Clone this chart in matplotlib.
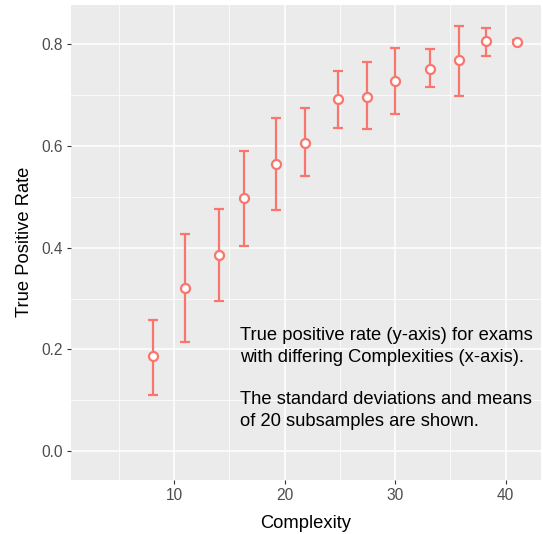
import numpy as np
import matplotlib
matplotlib.use("Agg")
import matplotlib.pyplot as plt
from matplotlib.ticker import MultipleLocator

plt.rcParams['font.family'] = ['Liberation Sans', 'DejaVu Sans']

# complexity vs mean true positive rate, with sd
complexity = [8.13, 10.95, 14.09, 16.33, 19.23, 21.86, 24.81, 27.48, 30.02, 33.19, 35.76, 38.23, 41.07]
tpr_mean   = [0.187, 0.320, 0.385, 0.498, 0.565, 0.606, 0.692, 0.697, 0.727, 0.752, 0.768, 0.806, 0.805]
tpr_upper  = [0.257, 0.427, 0.476, 0.591, 0.655, 0.674, 0.748, 0.765, 0.792, 0.791, 0.836, 0.832, 0.808]
tpr_lower  = [0.110, 0.214, 0.296, 0.404, 0.474, 0.541, 0.636, 0.633, 0.663, 0.715, 0.699, 0.777, 0.802]

note = ("True positive rate (y-axis) for exams\n"
        "with differing Complexities (x-axis).\n\n"
        "The standard deviations and means\n"
        "of 20 subsamples are shown.")

col = '#F8766D'

fig = plt.figure(figsize=(5.43, 5.34), dpi=100)
ax = fig.add_axes([71/543, 54/534, 470/543, 475.5/534])
ax.set_facecolor('#EBEBEB')

x = np.array(complexity)
m = np.array(tpr_mean)
yerr = [m - np.array(tpr_lower), np.array(tpr_upper) - m]
ax.errorbar(x, m, yerr=yerr, fmt='none', ecolor=col, elinewidth=1.6,
            capsize=3.8, capthick=1.6, zorder=3)
ax.plot(x, m, 'o', ms=6.5, mfc='white', mec=col, mew=1.6, zorder=4)

ax.text(15.95, 0.143, note, ha='left', va='center', fontsize=13.2,
        color='black', linespacing=1.33, zorder=5)

ax.set_xlim(0.67, 43.2)
ax.set_ylim(-0.0565, 0.878)
ax.xaxis.set_major_locator(MultipleLocator(10))
ax.xaxis.set_minor_locator(MultipleLocator(5))
ax.yaxis.set_major_locator(MultipleLocator(0.2))
ax.yaxis.set_minor_locator(MultipleLocator(0.1))
ax.set_xticks([10, 20, 30, 40])
ax.set_yticks([0.0, 0.2, 0.4, 0.6, 0.8])
ax.set_yticklabels(['0.0', '0.2', '0.4', '0.6', '0.8'])

ax.grid(which='major', color='white', linewidth=1.1, zorder=0)
ax.grid(which='minor', color='white', linewidth=0.55, zorder=0)
ax.set_axisbelow(True)
for s in ax.spines.values():
    s.set_visible(False)

ax.tick_params(which='major', length=2.7, width=0.8, color='#333333',
               labelcolor='#4D4D4D', labelsize=11.2, pad=3)
ax.tick_params(which='minor', length=0)

ax.set_xlabel('Complexity', fontsize=13.2, labelpad=9)
ax.set_ylabel('True Positive Rate', fontsize=13.2, labelpad=6)

fig.savefig('out.png', dpi=100)
